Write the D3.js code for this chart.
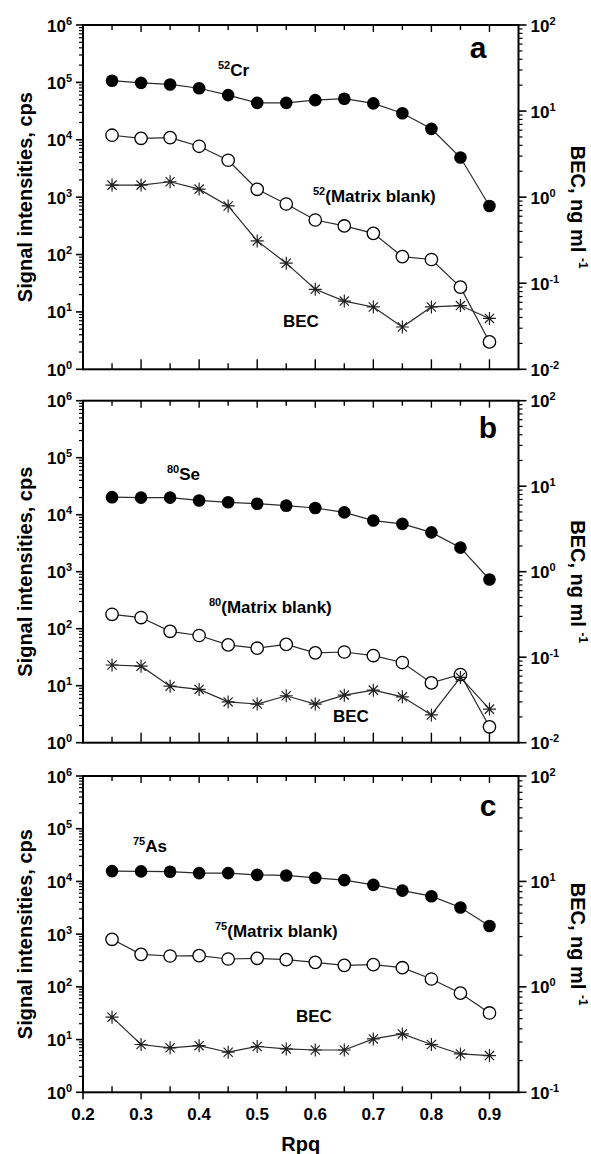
<!DOCTYPE html>
<html><head><meta charset="utf-8">
<script src="https://cdn.jsdelivr.net/npm/d3@7"></script>
<style>
body{margin:0;background:#fff}
svg{display:block}
text{font-family:"Liberation Sans",Arial,sans-serif;font-weight:bold;fill:#000}
</style>
</head><body>
<svg id="chart" width="591" height="1154"></svg>
<script>
// ---- data ----
const rpq = [0.25,0.30,0.35,0.40,0.45,0.50,0.55,0.60,0.65,0.70,0.75,0.80,0.85,0.90];

const crSignal = [1.07e5,9.8e4,9.2e4,7.9e4,6.0e4,4.4e4,4.4e4,4.9e4,5.2e4,4.3e4,2.9e4,1.55e4,4.9e3,700];
const crBlank  = [1.2e4,1.06e4,1.09e4,7.7e3,4.4e3,1.37e3,760,400,315,234,92,82,27,3.0];
const crBEC    = [1.38,1.38,1.51,1.24,0.79,0.31,0.171,0.085,0.062,0.053,0.031,0.053,0.055,0.039];

const seSignal = [2.03e4,1.99e4,1.99e4,1.78e4,1.65e4,1.56e4,1.44e4,1.31e4,1.10e4,7.9e3,6.9e3,4.9e3,2.64e3,730];
const seBlank  = [179,157,90,76,52,45.5,53,37.7,39,33.8,25.5,11.2,15.7,1.9];
const seBEC    = [0.081,0.0785,0.0458,0.042,0.030,0.0283,0.0354,0.0283,0.036,0.0412,0.0344,0.0211,0.058,0.0247];

const asSignal = [1.57e4,1.55e4,1.53e4,1.44e4,1.44e4,1.33e4,1.30e4,1.17e4,1.06e4,8.6e3,6.7e3,5.25e3,3.2e3,1.43e3];
const asBlank  = [798,414,385,391,338,348,328,292,256,264,231,141,76,32];
const asBEC    = [0.516,0.284,0.264,0.277,0.240,0.272,0.258,0.252,0.252,0.321,0.358,0.284,0.231,0.223];

const xTickValues = [0.2,0.3,0.4,0.5,0.6,0.7,0.8,0.9];
const xTickLabels = ["0.2","0.3","0.4","0.5","0.6","0.7","0.8","0.9"];
const leftExponents = [0,1,2,3,4,5,6];
const rightExponentsAB = [-2,-1,0,1,2];
const rightExponentsC = [-1,0,1,2];

// ---- layout ----
const X0 = 83, X1 = 518.5;
const x = d3.scaleLinear().domain([0.2,0.95]).range([X0,X1]);
const svg = d3.select('#chart');

const panels = [
  {letter:'a', top:25, bottom:369.3, signal:crSignal, blank:crBlank, bec:crBEC, rexp:rightExponentsAB,
   iso:'52', elem:'Cr', isoPos:[218,76], blankPos:[313,201.7], becPos:[283,327], letterPos:[478,58], showX:false},
  {letter:'b', top:400.7, bottom:742.7, signal:seSignal, blank:seBlank, bec:seBEC, rexp:rightExponentsAB,
   iso:'80', elem:'Se', isoPos:[167,480], blankPos:[209,613], becPos:[333,722], letterPos:[488,438], showX:false},
  {letter:'c', top:776, bottom:1092.3, signal:asSignal, blank:asBlank, bec:asBEC, rexp:rightExponentsC,
   iso:'75', elem:'As', isoPos:[133,852], blankPos:[215,937], becPos:[296,1022], letterPos:[488,816], showX:true}
];

const LINE = '#2a2a2a';

function starPath(r){
  const a = r*Math.SQRT1_2;
  return `M0,${-r}L0,${r}M${-r},0L${r},0M${-a},${-a}L${a},${a}M${-a},${a}L${a},${-a}`;
}

panels.forEach(p => {
  const g = svg.append('g');
  const yL = d3.scaleLog().domain([1,1e6]).range([p.bottom,p.top]);
  const rmin = p.rexp[0], rmax = p.rexp[p.rexp.length-1];
  const yR = d3.scaleLog().domain([Math.pow(10,rmin),Math.pow(10,rmax)]).range([p.bottom,p.top]);

  // left ticks (outward)
  yL.ticks().forEach(v => {
    const lg = Math.log10(v), major = Math.abs(lg-Math.round(lg))<1e-9;
    g.append('line').attr('x1',X0).attr('x2',X0-(major?7:4)).attr('y1',yL(v)).attr('y2',yL(v))
      .attr('stroke','#000').attr('stroke-width',major?1.6:1.2);
  });
  // right ticks (outward)
  yR.ticks().forEach(v => {
    const lg = Math.log10(v), major = Math.abs(lg-Math.round(lg))<1e-9;
    g.append('line').attr('x1',X1).attr('x2',X1+(major?8:4)).attr('y1',yR(v)).attr('y2',yR(v))
      .attr('stroke','#000').attr('stroke-width',major?1.6:1.2);
  });
  // top / bottom ticks
  x.ticks(15).forEach(t => {
    if (t < 0.21 || t > 0.94) return;
    const major = Math.abs(t*10-Math.round(t*10))<1e-6;
    g.append('line').attr('x1',x(t)).attr('x2',x(t)).attr('y1',p.top).attr('y2',p.top+(major?7:5))
      .attr('stroke','#000').attr('stroke-width',1.4);
    let y2;
    if (p.showX) y2 = major ? p.bottom+7 : p.bottom-6;
    else y2 = major ? p.bottom-10 : p.bottom-6;
    g.append('line').attr('x1',x(t)).attr('x2',x(t)).attr('y1',p.bottom).attr('y2',y2)
      .attr('stroke','#000').attr('stroke-width',1.4);
  });
  if (p.showX) {
    g.append('line').attr('x1',X0).attr('x2',X0).attr('y1',p.bottom).attr('y2',p.bottom+7).attr('stroke','#000').attr('stroke-width',1.6);
  }

  // frame
  g.append('rect').attr('x',X0).attr('y',p.top).attr('width',X1-X0).attr('height',p.bottom-p.top)
    .attr('fill','none').attr('stroke','#000').attr('stroke-width',2);

  // left labels
  leftExponents.forEach(e => {
    const t = g.append('text').attr('x',X0-11).attr('y',yL(Math.pow(10,e))+6.5)
      .attr('text-anchor','end').style('font-size','17px');
    t.append('tspan').text('10');
    t.append('tspan').attr('dy',-7).style('font-size','11px').text(e);
  });
  // right labels
  p.rexp.forEach(e => {
    const t = g.append('text').attr('x',X1+12).attr('y',yR(Math.pow(10,e))+6.5)
      .attr('text-anchor','start').style('font-size','17px');
    t.append('tspan').text('10');
    t.append('tspan').attr('dy',-7).style('font-size','11px').text(e);
  });

  const lineL = d3.line().x((d,i)=>x(rpq[i])).y(d=>yL(d));
  const lineR = d3.line().x((d,i)=>x(rpq[i])).y(d=>yR(d));

  // signal (filled circles)
  g.append('path').attr('d',lineL(p.signal)).attr('fill','none').attr('stroke',LINE).attr('stroke-width',1.2);
  g.selectAll(null).data(p.signal).enter().append('circle')
    .attr('cx',(d,i)=>x(rpq[i])).attr('cy',d=>yL(d)).attr('r',6.3).attr('fill','#000');

  // matrix blank (open circles)
  g.append('path').attr('d',lineL(p.blank)).attr('fill','none').attr('stroke',LINE).attr('stroke-width',1.2);
  g.selectAll(null).data(p.blank).enter().append('circle')
    .attr('cx',(d,i)=>x(rpq[i])).attr('cy',d=>yL(d)).attr('r',6.2)
    .attr('fill','#fff').attr('stroke','#000').attr('stroke-width',1.3);

  // BEC (asterisks, right axis)
  g.append('path').attr('d',lineR(p.bec)).attr('fill','none').attr('stroke',LINE).attr('stroke-width',1.2);
  g.selectAll(null).data(p.bec).enter().append('path')
    .attr('transform',(d,i)=>`translate(${x(rpq[i])},${yR(d)})`)
    .attr('d',starPath(6.5)).attr('fill','none').attr('stroke','#222').attr('stroke-width',1.2);

  // annotations
  let t = g.append('text').attr('x',p.isoPos[0]).attr('y',p.isoPos[1]).style('font-size','17px');
  t.append('tspan').attr('dy',-7).style('font-size','11px').text(p.iso);
  t.append('tspan').attr('dy',7).text(p.elem);

  t = g.append('text').attr('x',p.blankPos[0]).attr('y',p.blankPos[1]).style('font-size','17px');
  t.append('tspan').attr('dy',-7).style('font-size','11px').text(p.iso);
  t.append('tspan').attr('dy',7).text('(Matrix blank)');

  g.append('text').attr('x',p.becPos[0]).attr('y',p.becPos[1]).style('font-size','17px').text('BEC');

  g.append('text').attr('x',p.letterPos[0]).attr('y',p.letterPos[1]).attr('text-anchor','middle')
    .style('font-size','30px').text(p.letter);

  // axis titles
  const mid = (p.top+p.bottom)/2;
  g.append('text').attr('transform',`translate(32,${mid}) rotate(-90)`).attr('text-anchor','middle')
    .style('font-size','20px').text('Signal intensities, cps');
  const rt = g.append('text').attr('transform',`translate(571,${mid+10}) rotate(90)`).attr('text-anchor','middle')
    .style('font-size','20px');
  rt.append('tspan').text('BEC, ng ml ');
  rt.append('tspan').attr('dy',-8).style('font-size','12px').text('-1');

  if (p.showX) {
    xTickValues.forEach((v,i) => {
      g.append('text').attr('x',x(v)).attr('y',p.bottom+28).attr('text-anchor','middle')
        .style('font-size','17px').text(xTickLabels[i]);
    });
    g.append('text').attr('x',(X0+X1)/2).attr('y',1151).attr('text-anchor','middle')
      .style('font-size','20px').text('Rpq');
  }
});
</script>
</body></html>
